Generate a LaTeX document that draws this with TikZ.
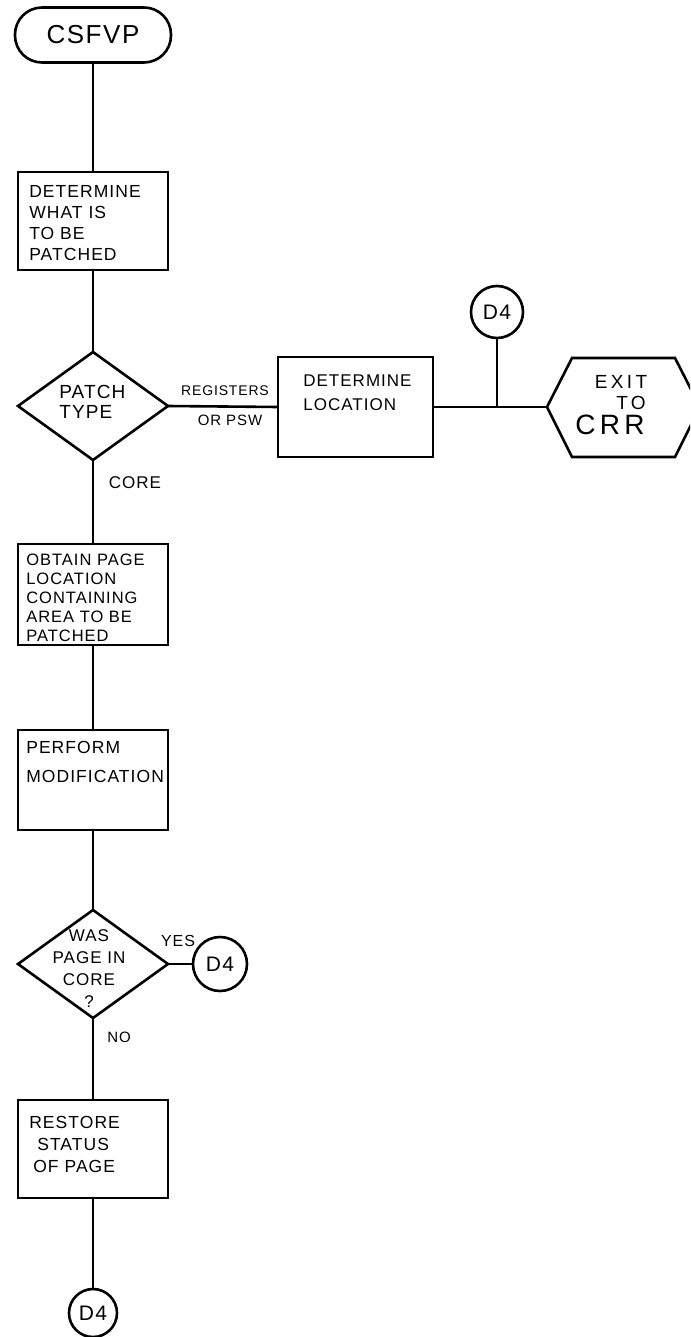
\documentclass[tikz,border=0pt]{standalone}
\usepackage{fontspec}
\setmainfont{Liberation Sans}[LetterSpace=6]
\usetikzlibrary{shapes.geometric}
\newcommand{\fs}[2]{\fontsize{#1}{#2}\selectfont}
\begin{document}
\begin{tikzpicture}[x=1pt,y=-1pt,line width=2.6pt,
  box/.style={draw,rectangle,minimum width=150pt,inner sep=0pt,outer sep=0pt},
  dia/.style={draw,diamond,minimum width=150pt,minimum height=108pt,inner sep=0pt,outer sep=0pt},
  conn/.style={draw,circle,inner sep=0pt,outer sep=0pt,font=\fs{21}{21}},
  txt/.style={align=left,inner sep=0pt,anchor=west},
  lbl/.style={inner sep=0pt}]
\useasboundingbox (0,0) rectangle (690,1337);
\clip (0,0) rectangle (690,1337);
\fill[white] (0,0) rectangle (690,1337);
% terminal
\node[draw,rounded corners=27pt,minimum width=156pt,minimum height=55pt,inner sep=0pt,font=\fs{26}{26}] (term) at (93,35) {CSFVP};
% box 1
\node[box,minimum height=98pt] (b1) at (93,221) {};
\node[txt,font=\fs{17.5}{21}] (t1) at (28,223.5) {DETERMINE\\WHAT IS\\TO BE\\PATCHED};
% diamond 1
\node[dia] (d1) at (93,406) {};
\node[txt,font=\fs{19}{20}] (t2) at (58,402) {PATCH\\TYPE};
% determine location
\node[box,minimum width=155pt,minimum height=100pt] (dl) at (355.5,407) {};
\node[txt,font=\fs{17}{24}] (t3) at (302,393) {DETERMINE\\LOCATION};
\node[lbl,font=\fs{14}{14}] (reg) at (225,391) {REGISTERS};
\node[lbl,font=\fs{15}{15}] (psw) at (230,420) {OR PSW};
% junction and connector
\coordinate (junc) at (497,407);
\node[conn,minimum size=52pt] (d4a) at (497,312) {D4};
% exit hexagon
\coordinate (exitw) at (547,407);
\draw (exitw) -- (572,358) -- (675,358) -- (700,407) -- (675,457) -- (572,457) -- cycle;
\node[lbl,font=\fs{19}{19}\addfontfeature{LetterSpace=18}] (ex1) at (621,382) {EXIT};
\node[lbl,font=\fs{19}{19}\addfontfeature{LetterSpace=18}] (ex2) at (631,403) {TO};
\node[lbl,font=\fs{28}{28}\addfontfeature{LetterSpace=15}] (ex3) at (610,425) {CRR};
% core label
\node[lbl,font=\fs{17}{17}] (core) at (135,483) {CORE};
% box 2
\node[box,minimum height=101pt] (b2) at (93,594.5) {};
\node[txt,font=\fs{16.5}{19}] (t4) at (25,598) {OBTAIN PAGE\\LOCATION\\CONTAINING\\AREA TO BE\\PATCHED};
% box 3
\node[box,minimum height=100pt] (b3) at (93,780) {};
\node[txt,font=\fs{17.5}{29}] (t5) at (25,762) {PERFORM\\MODIFICATION};
% diamond 2
\node[dia] (d2) at (93,964) {};
\node[align=center,inner sep=0pt,font=\fs{17}{22}] (t6) at (89,969) {WAS\\PAGE IN\\CORE\\?};
\node[lbl,font=\fs{16}{16}] (yes) at (178,941) {YES};
\node[conn,minimum size=54pt] (d4b) at (220,964) {D4};
\node[lbl,font=\fs{15}{15}] (no) at (119,1037) {NO};
% box 4
\node[box,minimum height=98pt] (b4) at (93,1149) {};
\node[txt,font=\fs{17.5}{22}] (t7) at (28,1144) {RESTORE\\\hspace*{8pt}STATUS\\\hspace*{4pt}OF PAGE};
% bottom connector
\node[conn,minimum size=48pt] (d4c) at (93,1313) {D4};
% connectors
\draw (term.south) -- (b1.north);
\draw (b1.south) -- (d1.north);
\draw (d1.south) -- (b2.north);
\draw (d1.east) -- (dl.west);
\draw (dl.east) -- (exitw);
\draw (d4a.south) -- (junc);
\draw (b2.south) -- (b3.north);
\draw (b3.south) -- (d2.north);
\draw (d2.east) -- (d4b.west);
\draw (d2.south) -- (b4.north);
\draw (b4.south) -- (d4c.north);
\end{tikzpicture}
\end{document}
